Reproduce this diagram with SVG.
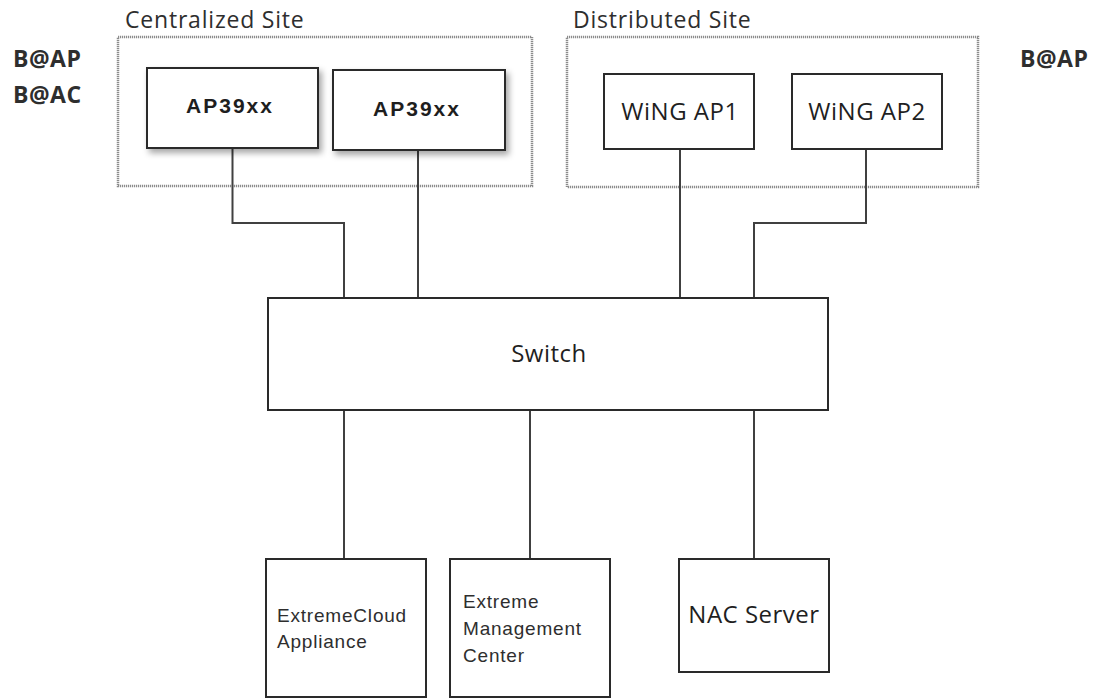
<svg xmlns="http://www.w3.org/2000/svg" width="1100" height="700" viewBox="0 0 1100 700">
  <defs>
    <style>
      .site { fill: none; stroke: #8c8c8c; stroke-width: 2.5; stroke-dasharray: 1.2 0.8; }
      .box { fill: #ffffff; stroke: #2a2a2a; stroke-width: 2; }
      .wire { fill: none; stroke: #404040; stroke-width: 2; }
      .cal { font-family: "Open Sans", "Noto Sans", sans-serif; fill: #1f1f1f; }
      .title { font-size: 23px; letter-spacing: 0.8px; fill: #2e2e2e; }
      .tag { font-size: 23px; font-weight: bold; fill: #2e2e2e; letter-spacing: 0.5px; }
      .lbl { font-size: 24px; text-anchor: middle; letter-spacing: 0.5px; }
      .ap { font-family: "Liberation Sans", Arial, sans-serif; font-size: 21px; font-weight: bold; fill: #1e1e1e; text-anchor: middle; letter-spacing: 2px; }
      .ar { font-family: "Liberation Sans", Arial, sans-serif; font-size: 19px; fill: #2e2e2e; letter-spacing: 0.8px; }
    </style>
    <filter id="shadow" x="-10%" y="-10%" width="130%" height="140%">
      <feDropShadow dx="3" dy="4" stdDeviation="3" flood-color="#000000" flood-opacity="0.35"/>
    </filter>
  </defs>

  <rect width="1100" height="700" fill="#ffffff"/>

  <!-- side tags -->
  <text class="cal tag" x="13" y="67">B@AP</text>
  <text class="cal tag" x="13" y="103">B@AC</text>
  <text class="cal tag" x="1020" y="67">B@AP</text>

  <!-- sites -->
  <g id="centralized-site">
    <rect class="site" x="118" y="37" width="414" height="149"/>
    <text class="cal title" x="125" y="28">Centralized Site</text>
  </g>
  <g id="distributed-site">
    <rect class="site" x="567" y="37" width="411" height="150"/>
    <text class="cal title" x="573" y="28">Distributed Site</text>
  </g>

  <!-- connectors -->
  <g id="connectors">
    <path class="wire" d="M232.5 148 V223 H344 V298"/>
    <path class="wire" d="M418 150 V298"/>
    <path class="wire" d="M680 149 V298"/>
    <path class="wire" d="M866 149 V223 H754 V298"/>
    <path class="wire" d="M344 410 V559"/>
    <path class="wire" d="M530 410 V559"/>
    <path class="wire" d="M754 410 V559"/>
  </g>

  <!-- nodes -->
  <g id="ap39xx-1">
    <rect class="box" x="147" y="68" width="171" height="80" filter="url(#shadow)"/>
    <text class="ap" x="230" y="113">AP39xx</text>
  </g>
  <g id="ap39xx-2">
    <rect class="box" x="333" y="70" width="172" height="80" filter="url(#shadow)"/>
    <text class="ap" x="417" y="116">AP39xx</text>
  </g>
  <g id="wing-ap1">
    <rect class="box" x="604" y="74" width="150" height="75"/>
    <text class="cal lbl" x="680" y="120">WiNG AP1</text>
  </g>
  <g id="wing-ap2">
    <rect class="box" x="792" y="74" width="150" height="75"/>
    <text class="cal lbl" x="867" y="120">WiNG AP2</text>
  </g>
  <g id="switch">
    <rect class="box" x="268" y="298" width="560" height="112"/>
    <text class="cal lbl" x="549" y="362">Switch</text>
  </g>
  <g id="extremecloud-appliance">
    <rect class="box" x="266" y="559" width="160" height="138"/>
    <text class="ar" x="277" y="622">ExtremeCloud</text>
    <text class="ar" x="277" y="648">Appliance</text>
  </g>
  <g id="extreme-management-center">
    <rect class="box" x="450" y="559" width="160" height="138"/>
    <text class="ar" x="463" y="608">Extreme</text>
    <text class="ar" x="463" y="635">Management</text>
    <text class="ar" x="463" y="662">Center</text>
  </g>
  <g id="nac-server">
    <rect class="box" x="679" y="559" width="150" height="113"/>
    <text class="cal lbl" x="754" y="623">NAC Server</text>
  </g>
</svg>
